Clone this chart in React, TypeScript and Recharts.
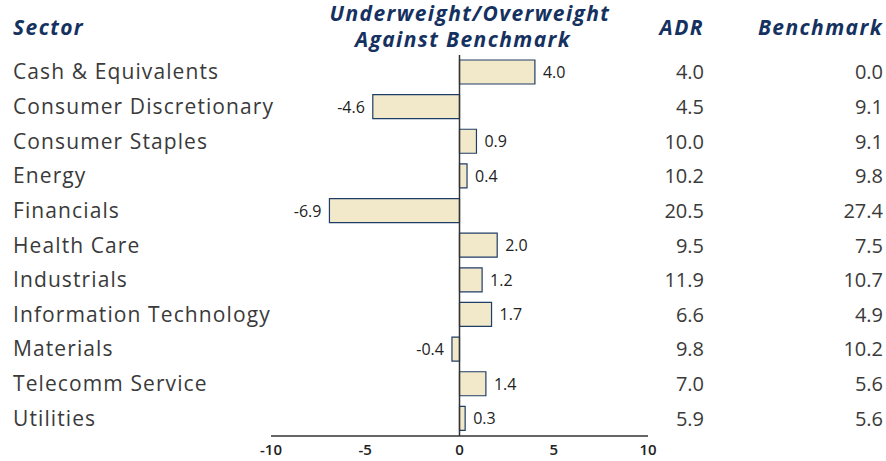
import React from 'react';
import { BarChart, Bar, XAxis, YAxis, ReferenceLine, LabelList } from 'recharts';

const sectors = [
  'Cash & Equivalents',
  'Consumer Discretionary',
  'Consumer Staples',
  'Energy',
  'Financials',
  'Health Care',
  'Industrials',
  'Information Technology',
  'Materials',
  'Telecomm Service',
  'Utilities',
];
const diffValues = [4.0, -4.6, 0.9, 0.4, -6.9, 2.0, 1.2, 1.7, -0.4, 1.4, 0.3];
const adrValues = [4.0, 4.5, 10.0, 10.2, 20.5, 9.5, 11.9, 6.6, 9.8, 7.0, 5.9];
const benchmarkValues = [0.0, 9.1, 9.1, 9.8, 27.4, 7.5, 10.7, 4.9, 10.2, 5.6, 5.6];
const xTicks = [-10, -5, 0, 5, 10];

const data = sectors.map((s, i) => ({ sector: s, diff: diffValues[i] }));

const FONT = "'Open Sans', 'DejaVu Sans', sans-serif";
const NAVY = '#15315f';
const TEXT = '#3a3a3a';

const LeftTick = (props: any) => {
  const { y, payload } = props;
  return (
    <text x={13} y={y} dy={7} textAnchor="start" fontSize={21} letterSpacing={1.1} fill={TEXT} fontFamily={FONT}>
      {payload.value}
    </text>
  );
};

const RightTick = (props: any) => {
  const { y, index } = props;
  return (
    <g>
      <text x={704} y={y} dy={7} textAnchor="end" fontSize={20} fill={TEXT} fontFamily={FONT}>
        {adrValues[index].toFixed(1)}
      </text>
      <text x={883} y={y} dy={7} textAnchor="end" fontSize={20} fill={TEXT} fontFamily={FONT}>
        {benchmarkValues[index].toFixed(1)}
      </text>
    </g>
  );
};

const BarLabel = (props: any) => {
  const { x, y, width, height, value } = props;
  const left = Math.min(x, x + width);
  const right = Math.max(x, x + width);
  const neg = value < 0;
  return (
    <text
      x={neg ? left - 8 : right + 8}
      y={y + height / 2}
      dy={6}
      textAnchor={neg ? 'end' : 'start'}
      fontSize={16}
      fill="#222"
      fontFamily={FONT}
    >
      {Number(value).toFixed(1)}
    </text>
  );
};

export default function App() {
  const headerStyle = {
    fontSize: 21,
    fontWeight: 700,
    fontStyle: 'italic' as const,
    fill: NAVY,
    fontFamily: FONT,
    letterSpacing: 1.4,
  };
  return (
    <div style={{ position: 'absolute', left: 0, top: 0, width: 886, height: 461 }}>
      <BarChart
        width={886}
        height={461}
        data={data}
        layout="vertical"
        margin={{ top: 55, right: 0, bottom: 0, left: 0 }}
        barSize={24}
      >
        <XAxis
          type="number"
          domain={[-10, 10]}
          ticks={xTicks}
          height={25}
          tickLine={false}
          axisLine={{ stroke: '#333', strokeWidth: 1.5 }}
          tick={{ fontSize: 15, fill: '#222', fontFamily: FONT, fontWeight: 600 }}
          interval={0}
        />
        <YAxis
          yAxisId="left"
          type="category"
          dataKey="sector"
          width={271}
          axisLine={false}
          tickLine={false}
          tick={<LeftTick />}
          interval={0}
        />
        <YAxis
          yAxisId="right"
          orientation="right"
          type="category"
          dataKey="sector"
          width={238}
          axisLine={false}
          tickLine={false}
          tick={<RightTick />}
          interval={0}
        />
        <ReferenceLine yAxisId="left" x={0} stroke="#333" strokeWidth={1.5} />
        <Bar yAxisId="left" dataKey="diff" fill="#f2e9cb" stroke="#1f3d66" strokeWidth={1.2} isAnimationActive={false}>
          <LabelList dataKey="diff" content={<BarLabel />} />
        </Bar>
        <text x={13} y={35} {...headerStyle}>
          Sector
        </text>
        <text x={470} y={21} textAnchor="middle" {...headerStyle}>
          Underweight/Overweight
        </text>
        <text x={463} y={47} textAnchor="middle" {...headerStyle}>
          Against Benchmark
        </text>
        <text x={704} y={35} textAnchor="end" {...headerStyle}>
          ADR
        </text>
        <text x={883} y={35} textAnchor="end" {...headerStyle}>
          Benchmark
        </text>
      </BarChart>
    </div>
  );
}
